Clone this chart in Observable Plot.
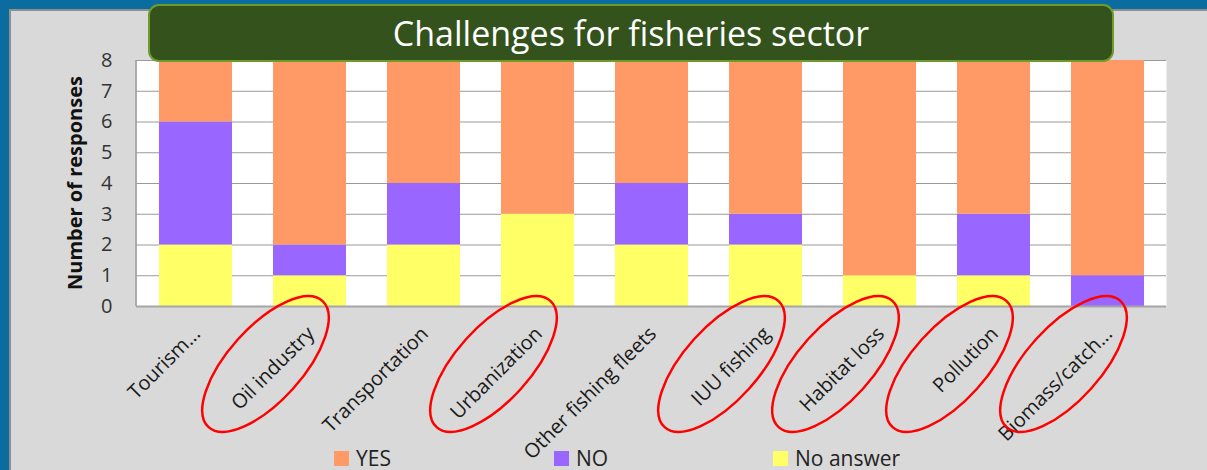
<!DOCTYPE html>
<html>
<head>
<meta charset="utf-8">
<script src="https://cdn.jsdelivr.net/npm/d3@7"></script>
<script src="https://cdn.jsdelivr.net/npm/@observablehq/plot@0.6"></script>
<style>
  html, body { margin: 0; padding: 0; }
  body { width: 1207px; height: 470px; background: #0b6d9f; position: relative; overflow: hidden; font-family: "Open Sans", sans-serif; }
  #panel { position: absolute; left: 9px; top: 9px; right: 0; bottom: 0; background: #d9d9d9; border-top: 2px solid #8f8f8f; border-left: 2px solid #8f8f8f; }
  #chart { position: absolute; left: 0; top: 0; }
  #title { position: absolute; left: 148px; top: 4px; width: 966px; height: 58px; box-sizing: border-box;
           background: #33521c; border: 2.5px solid #6f9b2b; border-radius: 11px; color: #fff;
           font-size: 34px; text-align: center; line-height: 54px; z-index: 5; }
  #legend { position: absolute; left: 0; top: 447px; width: 1207px; height: 22px; font-size: 21px; line-height: 22px; color: #222; }
  .item { position: absolute; top: 0; display: flex; align-items: center; height: 22px; }
  .sw { width: 15px; height: 15px; margin-right: 7px; }
</style>
</head>
<body>
<div id="panel"></div>
<div id="chart"></div>
<div id="title">Challenges for fisheries sector</div>
<div id="legend"></div>
<script>
const categories = ["Tourism...", "Oil industry", "Transportation", "Urbanization", "Other fishing fleets", "IUU fishing", "Habitat loss", "Pollution", "Biomass/catch..."];
const seriesNames = ["No answer", "NO", "YES"];
const noAnswer = [2, 1, 2, 3, 2, 2, 1, 1, 0];
const no       = [4, 1, 2, 0, 2, 1, 0, 2, 1];
const yes      = [2, 6, 4, 5, 4, 5, 7, 5, 7];
const yTicks = [0, 1, 2, 3, 4, 5, 6, 7, 8];
const circled = ["Oil industry", "Urbanization", "IUU fishing", "Habitat loss", "Pollution", "Biomass/catch..."];
const legendOrder = ["YES", "NO", "No answer"];
const colors = {"YES": "#ff9966", "NO": "#9966ff", "No answer": "#ffff66"};

const seriesValues = {"No answer": noAnswer, "NO": no, "YES": yes};
const table = [];
categories.forEach((c, i) => {
  for (const s of seriesNames) table.push({category: c, series: s, value: seriesValues[s][i]});
});

const chart = Plot.plot({
  width: 1207,
  height: 446,
  marginLeft: 136,
  marginRight: 41,
  marginTop: 60,
  marginBottom: 140,
  style: {background: "transparent", fontFamily: "Open Sans, sans-serif", overflow: "visible"},
  x: {domain: categories, paddingInner: 0.36, paddingOuter: 0.18, label: null, axis: null},
  y: {domain: [0, 8], ticks: yTicks, label: null},
  color: {domain: legendOrder, range: legendOrder.map(s => colors[s])},
  marks: [
    Plot.frame({fill: "white", stroke: null}),
    Plot.gridY(yTicks, {stroke: "#9a9a9a", strokeOpacity: 1, strokeWidth: 1}),
    Plot.barY(table, {x: "category", y: "value", fill: "series", inset: 0}),
    Plot.ruleY([0], {stroke: "#a6a6a6", strokeWidth: 2}),
    Plot.axisY(yTicks, {tickSize: 0, tickPadding: 24, fontSize: 20, fill: "#333", label: null}),
    Plot.text(categories, {x: d => d, frameAnchor: "bottom", dy: 24, dx: 1, rotate: -45,
      textAnchor: "end", lineAnchor: "middle", fontSize: 20, fill: "#1a1a1a"})
  ]
});
document.getElementById("chart").appendChild(chart);

const svg = d3.select(chart);
const xs = chart.scale("x");
const ys = chart.scale("y");
const bw = xs.bandwidth;
// left axis line
svg.append("line")
  .attr("x1", xs.range[0]).attr("x2", xs.range[0])
  .attr("y1", ys.apply(8)).attr("y2", ys.apply(0))
  .attr("stroke", "#9a9a9a").attr("stroke-width", 1.5);
// y label
const ymid = (ys.apply(0) + ys.apply(8)) / 2;
svg.append("text")
  .attr("transform", `translate(82,${ymid}) rotate(-90)`)
  .attr("text-anchor", "middle")
  .attr("font-size", 20).attr("font-weight", "bold").attr("fill", "#111")
  .attr("font-family", "Open Sans, sans-serif")
  .text("Number of responses");
// red ellipses around selected labels
for (const c of circled) {
  const cx = xs.apply(c) + bw / 2 - 44;
  const cy = ys.apply(0) + 58;
  svg.append("ellipse")
    .attr("transform", `translate(${cx},${cy}) rotate(-48)`)
    .attr("rx", 85).attr("ry", 37)
    .attr("fill", "none").attr("stroke", "#ff0000").attr("stroke-width", 2.5);
}

// legend
const legend = document.getElementById("legend");
const legendX = [334, 554, 773];
legendOrder.forEach((s, i) => {
  const it = document.createElement("div");
  it.className = "item";
  it.style.left = legendX[i] + "px";
  it.innerHTML = `<div class="sw" style="background:${colors[s]}"></div><span>${s}</span>`;
  legend.appendChild(it);
});
</script>
</body>
</html>
